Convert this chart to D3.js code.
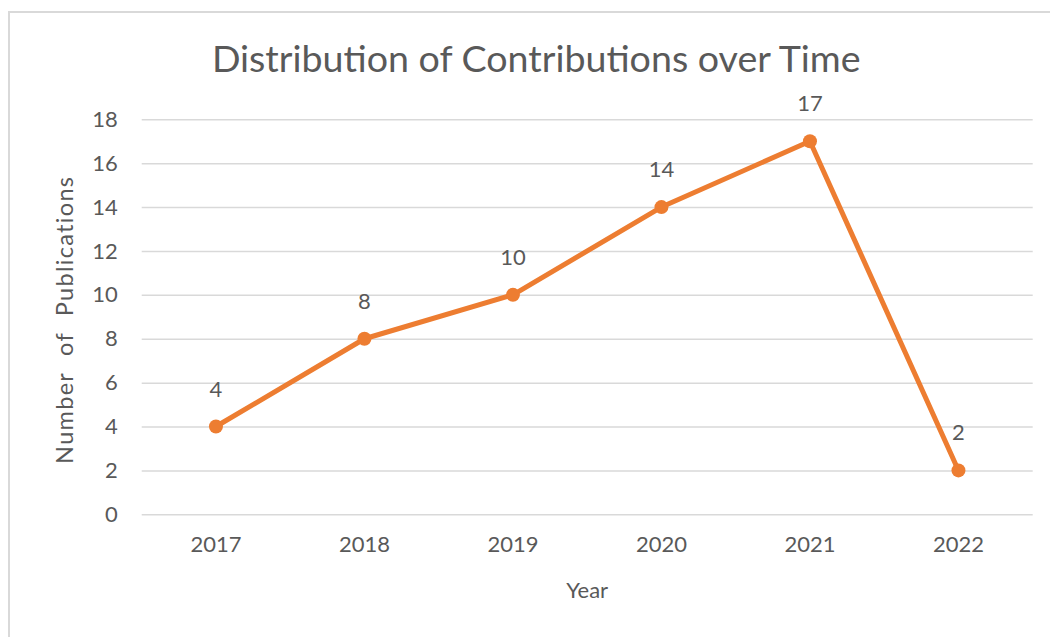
<!DOCTYPE html>
<html>
<head>
<meta charset="utf-8">
<script src="https://cdn.jsdelivr.net/npm/d3@7"></script>
<style>
  html, body { margin: 0; padding: 0; background: #fff; }
  svg { display: block; font-family: Lato, "Open Sans", sans-serif; }
</style>
</head>
<body>
<svg id="chart" width="1050" height="637"></svg>
<script>
const years = ["2017", "2018", "2019", "2020", "2021", "2022"];
const publications = [4, 8, 10, 14, 17, 2];
const yTicks = [0, 2, 4, 6, 8, 10, 12, 14, 16, 18];
const chartTitle = "Distribution of Contributions over Time";
const xTitle = "Year";
const yTitle = "Number of Publications";

const svg = d3.select("#chart");
const W = 1050, H = 637;
const margin = { left: 141.7, right: 1050 - 1032.7, top: 119.3, bottom: 637 - 514.3 };

const textColor = "#595959";
const gridColor = "#d9d9d9";
const lineColor = "#ED7D31";

// outer chart border (top & left visible, continues beyond right and bottom)
svg.append("rect")
  .attr("x", 9).attr("y", 12)
  .attr("width", 1100).attr("height", 700)
  .attr("fill", "none")
  .attr("stroke", gridColor)
  .attr("stroke-width", 2);

const x = d3.scaleBand().domain(years).range([margin.left, W - margin.right]);
const y = d3.scaleLinear().domain([0, 18]).range([H - margin.bottom, margin.top]);

// gridlines via axis
const yAxis = d3.axisLeft(y).tickValues(yTicks).tickSize(-(W - margin.right - margin.left)).tickPadding(24).tickFormat(d3.format("d"));
const gy = svg.append("g").attr("transform", `translate(${margin.left},0)`).call(yAxis);
gy.select(".domain").remove();
gy.selectAll(".tick line").attr("stroke", gridColor).attr("stroke-width", 1.5);
gy.selectAll(".tick text").attr("fill", textColor).attr("font-size", 22).attr("font-family", "Lato, sans-serif");

const xAxis = d3.axisBottom(x).tickSize(0).tickPadding(22);
const gx = svg.append("g").attr("transform", `translate(0,${H - margin.bottom})`).call(xAxis);
gx.select(".domain").remove();
gx.selectAll(".tick text").attr("fill", textColor).attr("font-size", 22).attr("font-family", "Lato, sans-serif");

// title
svg.append("text")
  .attr("x", (margin.left + W - margin.right) / 2 - 51)
  .attr("y", 72)
  .attr("text-anchor", "middle")
  .attr("fill", textColor)
  .attr("font-size", 37.6)
  .text(chartTitle);

// axis titles
svg.append("text")
  .attr("x", (margin.left + W - margin.right) / 2)
  .attr("y", 598)
  .attr("text-anchor", "middle")
  .attr("fill", textColor)
  .attr("font-size", 22)
  .text(xTitle);

svg.append("text")
  .attr("transform", `translate(73,${(y(0) + y(18)) / 2 + 3}) rotate(-90)`)
  .attr("text-anchor", "middle")
  .attr("fill", textColor)
  .attr("font-size", 23.5)
  .attr("word-spacing", 9)
  .attr("letter-spacing", 1.3)
  .text(yTitle);

const data = years.map((yr, i) => ({ year: yr, value: publications[i] }));

const line = d3.line()
  .x(d => x(d.year) + x.bandwidth() / 2)
  .y(d => y(d.value));

svg.append("path")
  .datum(data)
  .attr("d", line)
  .attr("fill", "none")
  .attr("stroke", lineColor)
  .attr("stroke-width", 5)
  .attr("stroke-linejoin", "round");

svg.selectAll("circle.pt")
  .data(data)
  .join("circle")
  .attr("class", "pt")
  .attr("cx", d => x(d.year) + x.bandwidth() / 2)
  .attr("cy", d => y(d.value))
  .attr("r", 7)
  .attr("fill", lineColor);

svg.selectAll("text.lbl")
  .data(data)
  .join("text")
  .attr("class", "lbl")
  .attr("x", d => x(d.year) + x.bandwidth() / 2)
  .attr("y", d => y(d.value) - 30)
  .attr("text-anchor", "middle")
  .attr("fill", textColor)
  .attr("font-size", 22)
  .text(d => d.value);
</script>
</body>
</html>
